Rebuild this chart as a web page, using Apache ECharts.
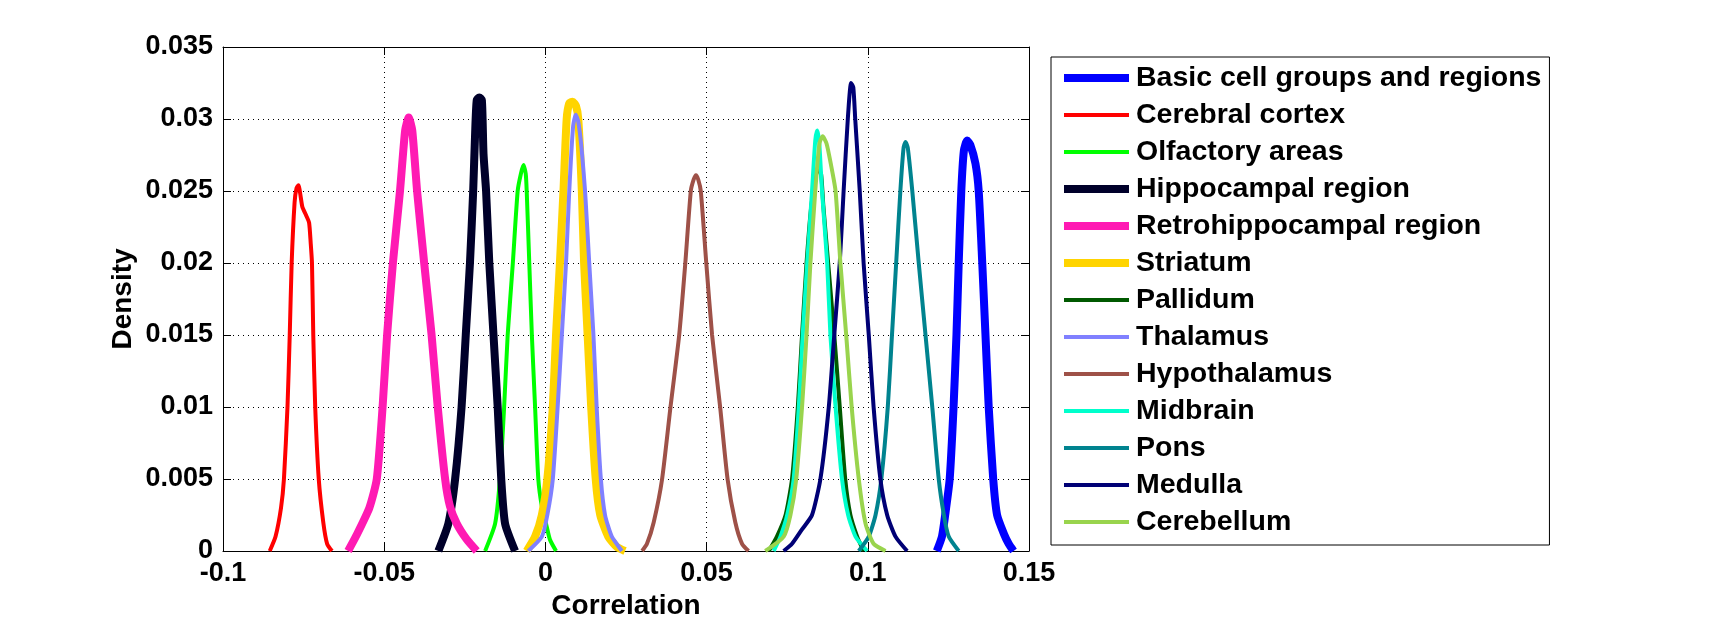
<!DOCTYPE html>
<html>
<head>
<meta charset="utf-8">
<script src="https://cdn.jsdelivr.net/npm/echarts@6/dist/echarts.min.js"></script>
<style>
html,body{margin:0;padding:0;background:#fff;}
#chart{width:1719px;height:625px;}
</style>
</head>
<body>
<div id="chart"></div>
<script>
// ---- data (x = correlation, y = density) ----
const seriesNames = ["Basic cell groups and regions","Cerebral cortex","Olfactory areas","Hippocampal region","Retrohippocampal region","Striatum","Pallidum","Thalamus","Hypothalamus","Midbrain","Pons","Medulla","Cerebellum"];

const basicCell = [[0.1214,0],[0.1230,0.001],[0.1240,0.0025],[0.1254,0.005],[0.1266,0.01],[0.1275,0.015],[0.1282,0.02],[0.1290,0.025],[0.1298,0.0278],[0.1308,0.0285],[0.1318,0.0282],[0.1334,0.0269],[0.1344,0.025],[0.1355,0.02],[0.1365,0.015],[0.1375,0.01],[0.1389,0.005],[0.1401,0.0025],[0.1422,0.0012],[0.1437,0.0005],[0.1452,0]];
const cerebralCortex = [[-0.0855,0],[-0.0837,0.001],[-0.082,0.003],[-0.0811,0.005],[-0.080,0.01],[-0.0793,0.015],[-0.0787,0.02],[-0.0778,0.0242],[-0.0772,0.0252],[-0.0766,0.0254],[-0.0754,0.0239],[-0.0742,0.0233],[-0.0733,0.0228],[-0.0728,0.0214],[-0.0724,0.02],[-0.0720,0.015],[-0.0714,0.01],[-0.0703,0.005],[-0.0689,0.002],[-0.0677,0.0005],[-0.0662,0]];
const olfactory = [[-0.0187,0],[-0.0156,0.0019],[-0.0141,0.005],[-0.0128,0.01],[-0.0117,0.015],[-0.0101,0.02],[-0.0086,0.025],[-0.0076,0.0262],[-0.0068,0.0268],[-0.0061,0.0262],[-0.0058,0.025],[-0.005,0.02],[-0.0042,0.015],[-0.0032,0.01],[-0.0022,0.005],[-0.0011,0.0031],[0.0002,0.0019],[0.0014,0.0008],[0.0033,0]];
const hippocampal = [[-0.0332,0],[-0.0301,0.0019],[-0.028,0.005],[-0.026,0.01],[-0.0247,0.015],[-0.0234,0.02],[-0.0224,0.025],[-0.0218,0.029],[-0.0213,0.0313],[-0.0205,0.0315],[-0.0197,0.0313],[-0.0192,0.0276],[-0.0184,0.025],[-0.0174,0.02],[-0.0161,0.015],[-0.0148,0.01],[-0.0137,0.005],[-0.0125,0.0019],[-0.0094,0]];
const retrohippocampal = [[-0.0612,0],[-0.0588,0.001],[-0.0546,0.003],[-0.0523,0.005],[-0.0505,0.01],[-0.0491,0.015],[-0.0473,0.02],[-0.0451,0.025],[-0.0435,0.0292],[-0.0424,0.0301],[-0.0413,0.0292],[-0.0398,0.025],[-0.0376,0.02],[-0.0353,0.015],[-0.0334,0.01],[-0.0311,0.005],[-0.0296,0.0031],[-0.0275,0.0019],[-0.0244,0.0008],[-0.0213,0]];
const striatum = [[-0.0058,0],[-0.0032,0.001],[-0.0011,0.0025],[0.0006,0.005],[0.0023,0.01],[0.0033,0.015],[0.0045,0.02],[0.0056,0.025],[0.0066,0.03],[0.0074,0.0311],[0.0084,0.0312],[0.0095,0.0309],[0.0102,0.03],[0.0113,0.025],[0.012,0.02],[0.0131,0.015],[0.0142,0.01],[0.0156,0.005],[0.017,0.0025],[0.0195,0.001],[0.0221,0.0003],[0.0247,0]];
const pallidum = [[0.0693,0],[0.0718,0.001],[0.0745,0.0025],[0.0765,0.005],[0.0783,0.01],[0.0796,0.015],[0.081,0.02],[0.0825,0.024],[0.0845,0.0265],[0.0855,0.0262],[0.0862,0.024],[0.0877,0.02],[0.0896,0.015],[0.0913,0.01],[0.093,0.005],[0.0946,0.0025],[0.0967,0.001],[0.0987,0]];
const thalamus = [[-0.0053,0],[-0.0011,0.001],[0.0006,0.0025],[0.0023,0.005],[0.0038,0.01],[0.0051,0.015],[0.0064,0.02],[0.0074,0.025],[0.0086,0.0295],[0.0094,0.0303],[0.0102,0.0298],[0.0112,0.028],[0.0123,0.025],[0.0136,0.02],[0.0149,0.015],[0.0159,0.01],[0.0172,0.005],[0.0185,0.0025],[0.0206,0.001],[0.0237,0]];
const hypothalamus = [[0.030,0],[0.0315,0.0005],[0.0336,0.002],[0.0362,0.005],[0.0388,0.01],[0.0415,0.015],[0.0434,0.02],[0.0451,0.025],[0.0460,0.0258],[0.0467,0.0261],[0.0474,0.0258],[0.0482,0.025],[0.0499,0.02],[0.0517,0.015],[0.0542,0.01],[0.0565,0.005],[0.0589,0.002],[0.061,0.0005],[0.063,0]];
const midbrain = [[0.0708,0],[0.0729,0.001],[0.075,0.0025],[0.077,0.005],[0.0786,0.01],[0.0798,0.015],[0.0812,0.02],[0.0827,0.025],[0.0837,0.0285],[0.0843,0.0292],[0.0849,0.0285],[0.0858,0.025],[0.0874,0.02],[0.0884,0.015],[0.09,0.01],[0.092,0.005],[0.0939,0.0025],[0.0962,0.001],[0.0998,0]];
const pons = [[0.0972,0],[0.1003,0.001],[0.1024,0.0025],[0.1042,0.005],[0.1062,0.01],[0.1075,0.015],[0.1088,0.02],[0.1101,0.025],[0.1111,0.028],[0.1117,0.0284],[0.1124,0.028],[0.1138,0.025],[0.1158,0.02],[0.1179,0.015],[0.12,0.01],[0.122,0.005],[0.1236,0.0025],[0.1251,0.001],[0.1282,0]];
const medulla = [[0.0739,0],[0.0765,0.0005],[0.0796,0.0015],[0.0827,0.0025],[0.0853,0.005],[0.0879,0.01],[0.0896,0.015],[0.0913,0.02],[0.0925,0.025],[0.0938,0.03],[0.0948,0.0325],[0.0955,0.0322],[0.0961,0.03],[0.0975,0.025],[0.0987,0.02],[0.1003,0.015],[0.1018,0.01],[0.1039,0.005],[0.106,0.0025],[0.1086,0.001],[0.1122,0]];
const cerebellum = [[0.0682,0],[0.0739,0.001],[0.076,0.0025],[0.0778,0.005],[0.0796,0.01],[0.081,0.015],[0.0822,0.02],[0.0837,0.025],[0.085,0.0283],[0.086,0.0288],[0.0872,0.0283],[0.0886,0.0268],[0.09,0.025],[0.0915,0.02],[0.0933,0.015],[0.095,0.01],[0.0972,0.005],[0.0993,0.0019],[0.1018,0.0005],[0.1055,0]];

const seriesData = [basicCell, cerebralCortex, olfactory, hippocampal, retrohippocampal, striatum, pallidum, thalamus, hypothalamus, midbrain, pons, medulla, cerebellum];

// ---- styles ----
const seriesColors = ["#0000ff","#ff0000","#00ff00","#00002a","#ff1ab3","#ffd400","#005900","#8080ff","#9e5148","#00ffcc","#00838f","#000075","#99d44d"];
const seriesWidths = [8,4,4,8,8,8,4,4,4,4,4,4,4];

const FONT = "'Liberation Sans', Arial, Helvetica, sans-serif";
const tickFont = {fontFamily: FONT, fontSize: 27, fontWeight: 'bold', color: '#000'};

const chart = echarts.init(document.getElementById('chart'), null, {renderer: 'canvas'});
const option = {
  backgroundColor: '#fff',
  animation: false,
  grid: {left: 223, right: 690, top: 47, bottom: 74, containLabel: false},
  legend: {
    orient: 'vertical',
    left: 1051, top: 57,
    padding: [6, 8, 8, 9],
    itemWidth: 65, itemHeight: 30, itemGap: 7,
    backgroundColor: '#fff',
    borderColor: '#000', borderWidth: 1, borderRadius: 0,
    lineStyle: {width: 'inherit'},
    itemStyle: {opacity: 0},
    textStyle: {fontFamily: FONT, fontSize: 28.5, fontWeight: 'bold', color: '#000', lineHeight: 30, padding: [0, 0, 0, 2]},
    selectedMode: false,
    data: seriesNames
  },
  xAxis: [{
    type: 'value', min: -0.1, max: 0.15, interval: 0.05,
    name: 'Correlation', nameLocation: 'middle', nameGap: 41,
    nameTextStyle: {fontFamily: FONT, fontSize: 28, fontWeight: 'bold', color: '#000'},
    axisLine: {show: true, onZero: false, lineStyle: {color: '#000', width: 1}},
    axisTick: {show: true, inside: true, length: 8, lineStyle: {color: '#000'}},
    axisLabel: Object.assign({margin: 9}, tickFont),
    splitLine: {show: true, lineStyle: {color: '#000', width: 1, type: [1, 4]}}
  }, {
    type: 'value', min: -0.1, max: 0.15, interval: 0.05, position: 'top',
    axisLine: {show: true, onZero: false, lineStyle: {color: '#000', width: 1}},
    axisTick: {show: true, inside: true, length: 8, lineStyle: {color: '#000'}},
    axisLabel: {show: false}, splitLine: {show: false}
  }],
  yAxis: [{
    type: 'value', min: 0, max: 0.035, interval: 0.005,
    name: 'Density', nameLocation: 'middle', nameGap: 86, nameRotate: 90,
    nameTextStyle: {fontFamily: FONT, fontSize: 28, fontWeight: 'bold', color: '#000'},
    axisLine: {show: true, onZero: false, lineStyle: {color: '#000', width: 1}},
    axisTick: {show: true, inside: true, length: 8, lineStyle: {color: '#000'}},
    axisLabel: Object.assign({margin: 10}, tickFont),
    splitLine: {show: true, lineStyle: {color: '#000', width: 1, type: [1, 4]}}
  }, {
    type: 'value', min: 0, max: 0.035, interval: 0.005, position: 'right',
    axisLine: {show: true, onZero: false, lineStyle: {color: '#000', width: 1}},
    axisTick: {show: true, inside: true, length: 8, lineStyle: {color: '#000'}},
    axisLabel: {show: false}, splitLine: {show: false}
  }],
  series: seriesNames.map((name, i) => ({
    name: name,
    type: 'line',
    xAxisIndex: 0, yAxisIndex: 0,
    data: seriesData[i],
    symbol: 'none',
    smooth: 0.2,
    color: seriesColors[i],
    lineStyle: {color: seriesColors[i], width: seriesWidths[i], join: 'round'},
    emphasis: {disabled: true},
    z: 2 + i * 0.01
  }))
};
chart.setOption(option);
</script>
</body>
</html>
